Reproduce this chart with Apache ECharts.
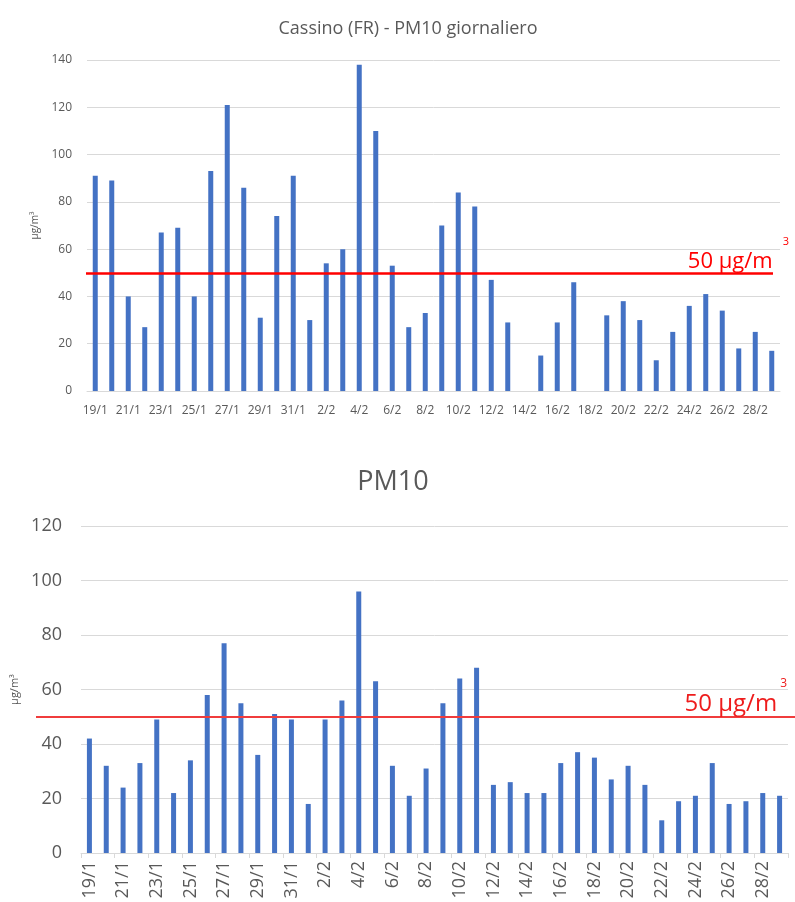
<!DOCTYPE html>
<html>
<head>
<meta charset="utf-8">
<script src="https://cdn.jsdelivr.net/npm/echarts@6/dist/echarts.min.js"></script>
<style>
  html, body { margin: 0; padding: 0; background: #ffffff; }
  #chart { width: 795px; height: 902px; }
</style>
</head>
<body>
<div id="chart"></div>
<script>
// Daily dates, 19 January - 29 February
const days = [
  '19/1','20/1','21/1','22/1','23/1','24/1','25/1','26/1','27/1','28/1','29/1','30/1','31/1',
  '1/2','2/2','3/2','4/2','5/2','6/2','7/2','8/2','9/2','10/2','11/2','12/2','13/2','14/2',
  '15/2','16/2','17/2','18/2','19/2','20/2','21/2','22/2','23/2','24/2','25/2','26/2','27/2','28/2','29/2'
];

// Cassino (FR) daily PM10, µg/m³ (null = no measurement)
const cassinoPM10 = [
  91, 89, 40, 27, 67, 69, 40, 93, 121, 86, 31, 74, 91,
  30, 54, 60, 138, 110, 53, 27, 33, 70, 84, 78, 47, 29, null,
  15, 29, 46, null, 32, 38, 30, 13, 25, 36, 41, 34, 18, 25, 17
];

// Second station daily PM10, µg/m³
const pm10 = [
  42, 32, 24, 33, 49, 22, 34, 58, 77, 55, 36, 51, 49,
  18, 49, 56, 96, 63, 32, 21, 31, 55, 64, 68, 25, 26, 22,
  22, 33, 37, 35, 27, 32, 25, 12, 19, 21, 33, 18, 19, 22, 21
];

// Daily limit value
const limitValue = 50;

const textGray = '#595959';
const gridGray = '#d9d9d9';
const barBlue = '#4472C4';
const font = 'Open Sans';

const chart = echarts.init(document.getElementById('chart'), null, { renderer: 'canvas' });

function limitLabel(size, supSize, lh, supGap, color) {
  return {
    show: true,
    position: 'insideEndTop',
    formatter: '{a|' + limitValue + ' µg/m}{b|3}',
    rich: {
      a: { fontFamily: font, fontSize: size, color: color, lineHeight: lh },
      b: { fontFamily: font, fontSize: supSize, color: color, lineHeight: supSize,
           verticalAlign: 'top', padding: [0, 0, 0, supGap] }
    }
  };
}

chart.setOption({
  backgroundColor: '#ffffff',
  animation: false,
  textStyle: { fontFamily: font },
  title: [
    {
      text: 'Cassino (FR) - PM10 giornaliero',
      left: 403, top: 15, textAlign: 'center',
      textStyle: { fontFamily: font, fontSize: 18, fontWeight: 'normal', color: textGray }
    },
    {
      text: 'PM10',
      left: 388, top: 464, textAlign: 'center',
      textStyle: { fontFamily: font, fontSize: 27, fontWeight: 'normal', color: textGray }
    }
  ],
  grid: [
    { left: 87, right: 15, top: 60, height: 331 },
    { left: 81, right: 7, top: 526, height: 327 }
  ],
  xAxis: [
    {
      type: 'category', gridIndex: 0, data: days,
      axisLine: { show: true, lineStyle: { color: gridGray } },
      axisTick: { show: false },
      axisLabel: { interval: 1, fontSize: 12, color: textGray, margin: 14 }
    },
    {
      type: 'category', gridIndex: 1, data: days,
      axisLine: { show: true, lineStyle: { color: gridGray } },
      axisTick: { show: true, interval: 1, length: 5, lineStyle: { color: gridGray } },
      axisLabel: { interval: 1, rotate: 90, fontSize: 18, color: textGray, margin: 8 }
    }
  ],
  yAxis: [
    {
      type: 'value', gridIndex: 0, min: 0, max: 140, interval: 20,
      name: 'µg/m³', nameLocation: 'middle', nameGap: 45, nameRotate: 90,
      nameTextStyle: { fontSize: 10, color: textGray },
      axisLine: { show: false }, axisTick: { show: false },
      axisLabel: { fontSize: 12, color: textGray, margin: 15 },
      splitLine: { lineStyle: { color: gridGray } }
    },
    {
      type: 'value', gridIndex: 1, min: 0, max: 120, interval: 20,
      name: 'µg/m³', nameLocation: 'middle', nameGap: 60, nameRotate: 90,
      nameTextStyle: { fontSize: 11, color: textGray },
      axisLine: { show: false }, axisTick: { show: false },
      axisLabel: { fontSize: 18, color: textGray, margin: 19 },
      splitLine: { lineStyle: { color: gridGray } }
    }
  ],
  series: [
    {
      type: 'bar', xAxisIndex: 0, yAxisIndex: 0, data: cassinoPM10,
      barWidth: 5, itemStyle: { color: barBlue },
      markLine: {
        silent: true, symbol: 'none',
        lineStyle: { color: '#ff0000', width: 2.5, type: 'solid' },
        label: Object.assign(limitLabel(22, 11, 50, 10, '#ff0000'), { distance: [-16, -14] }),
        data: [[{ x: 86, yAxis: limitValue }, { x: 773, yAxis: limitValue }]]
      }
    },
    {
      type: 'bar', xAxisIndex: 1, yAxisIndex: 1, data: pm10,
      barWidth: 5, itemStyle: { color: barBlue },
      markLine: {
        silent: true, symbol: 'none',
        lineStyle: { color: '#f03c3c', width: 2, type: 'solid' },
        label: Object.assign(limitLabel(24, 12, 52, 3, '#ee1c1c'), { distance: [8, -13] }),
        data: [[{ x: 36, yAxis: limitValue }, { x: 795, yAxis: limitValue }]]
      }
    }
  ]
});
</script>
</body>
</html>
